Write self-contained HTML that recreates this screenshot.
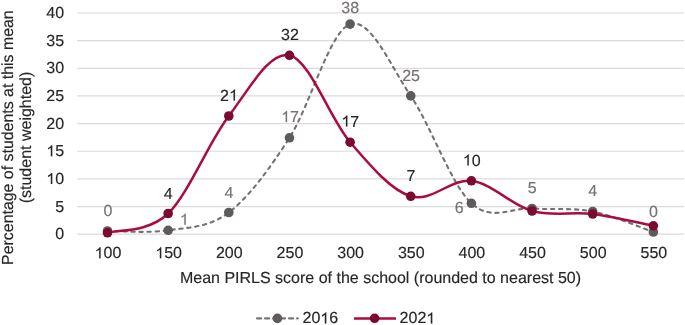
<!DOCTYPE html>
<html><head><meta charset="utf-8"><style>
html,body{margin:0;padding:0;background:#fff;}
body{width:685px;height:325px;overflow:hidden;position:relative;font-family:"Liberation Sans",sans-serif;}
svg{position:absolute;left:0;top:0;}
svg text{font-family:"Liberation Sans",sans-serif;font-size:16px;fill:#262626;stroke:#262626;stroke-width:0.15px;text-rendering:geometricPrecision;}
</style></head><body>
<svg style="will-change:transform" width="685" height="325" viewBox="0 0 685 325">
<line x1="77" x2="684" y1="13.00" y2="13.00" stroke="#dddbd9" stroke-width="1.2"/><line x1="77" x2="684" y1="40.65" y2="40.65" stroke="#dddbd9" stroke-width="1.2"/><line x1="77" x2="684" y1="68.30" y2="68.30" stroke="#dddbd9" stroke-width="1.2"/><line x1="77" x2="684" y1="95.95" y2="95.95" stroke="#dddbd9" stroke-width="1.2"/><line x1="77" x2="684" y1="123.60" y2="123.60" stroke="#dddbd9" stroke-width="1.2"/><line x1="77" x2="684" y1="151.25" y2="151.25" stroke="#dddbd9" stroke-width="1.2"/><line x1="77" x2="684" y1="178.90" y2="178.90" stroke="#dddbd9" stroke-width="1.2"/><line x1="77" x2="684" y1="206.55" y2="206.55" stroke="#dddbd9" stroke-width="1.2"/><line x1="77" x2="684" y1="234.20" y2="234.20" stroke="#dddbd9" stroke-width="1.2"/>
<g><text transform="translate(64.10,18.00)" text-anchor="end">40</text><text transform="translate(64.10,45.65)" text-anchor="end">35</text><text transform="translate(64.10,73.30)" text-anchor="end">30</text><text transform="translate(64.10,100.95)" text-anchor="end">25</text><text transform="translate(64.10,128.60)" text-anchor="end">20</text><text transform="translate(64.10,156.25)" text-anchor="end"><tspan style="fill:none;stroke:none">1</tspan>5</text><path transform="translate(46.303,156.25) scale(0.007812,-0.007812)" d="M763,0L583,0L583,1102Q518,1043 412,983Q307,924 223,894L223,1061Q374,1129 487,1223Q600,1316 647,1409L763,1409Z" fill="#262626" stroke="#262626" stroke-width="19.2"/><text transform="translate(64.10,183.90)" text-anchor="end"><tspan style="fill:none;stroke:none">1</tspan>0</text><path transform="translate(46.303,183.90) scale(0.007812,-0.007812)" d="M763,0L583,0L583,1102Q518,1043 412,983Q307,924 223,894L223,1061Q374,1129 487,1223Q600,1316 647,1409L763,1409Z" fill="#262626" stroke="#262626" stroke-width="19.2"/><text transform="translate(64.10,211.55)" text-anchor="end">5</text><text transform="translate(64.10,239.20)" text-anchor="end">0</text><text transform="translate(108.00,258.30)" text-anchor="middle"><tspan style="fill:none;stroke:none">1</tspan>00</text><path transform="translate(94.652,258.30) scale(0.007812,-0.007812)" d="M763,0L583,0L583,1102Q518,1043 412,983Q307,924 223,894L223,1061Q374,1129 487,1223Q600,1316 647,1409L763,1409Z" fill="#262626" stroke="#262626" stroke-width="19.2"/><text transform="translate(168.65,258.30)" text-anchor="middle"><tspan style="fill:none;stroke:none">1</tspan>50</text><path transform="translate(155.302,258.30) scale(0.007812,-0.007812)" d="M763,0L583,0L583,1102Q518,1043 412,983Q307,924 223,894L223,1061Q374,1129 487,1223Q600,1316 647,1409L763,1409Z" fill="#262626" stroke="#262626" stroke-width="19.2"/><text transform="translate(229.30,258.30)" text-anchor="middle">200</text><text transform="translate(289.95,258.30)" text-anchor="middle">250</text><text transform="translate(350.60,258.30)" text-anchor="middle">300</text><text transform="translate(411.25,258.30)" text-anchor="middle">350</text><text transform="translate(471.90,258.30)" text-anchor="middle">400</text><text transform="translate(532.55,258.30)" text-anchor="middle">450</text><text transform="translate(593.20,258.30)" text-anchor="middle">500</text><text transform="translate(653.85,258.30)" text-anchor="middle">550</text></g>
<text transform="translate(380.50,282.60)" text-anchor="middle">Mean PIRLS score of the school (rounded to nearest 50)</text>
<text transform="translate(12.50,137.60) rotate(-90) scale(0.994,1.0)" text-anchor="middle">Percentage of students at this mean</text>
<text transform="translate(30.50,137.50) rotate(-90)" text-anchor="middle">(student weighted)</text>
<path d="M107.50,231.00 C117.61,230.88 147.93,233.38 168.15,230.30 C188.37,227.22 208.58,227.92 228.80,212.50 C249.02,197.08 269.23,169.20 289.45,137.80 C309.67,106.40 329.88,31.08 350.10,24.10 C370.32,17.12 390.53,66.03 410.75,95.90 C430.97,125.77 451.18,184.53 471.40,203.30 C491.62,222.07 511.83,207.13 532.05,208.50 C552.27,209.87 572.48,207.58 592.70,211.50 C612.92,215.42 643.24,228.58 653.35,232.00" fill="none" stroke="#767171" stroke-width="2.1" stroke-dasharray="3.3 4.7" stroke-linecap="round"/>
<circle cx="107.50" cy="231.00" r="4.8" fill="#5f5b5b"/><circle cx="168.15" cy="230.30" r="4.8" fill="#5f5b5b"/><circle cx="228.80" cy="212.50" r="4.8" fill="#5f5b5b"/><circle cx="289.45" cy="137.80" r="4.8" fill="#5f5b5b"/><circle cx="350.10" cy="24.10" r="4.8" fill="#5f5b5b"/><circle cx="410.75" cy="95.90" r="4.8" fill="#5f5b5b"/><circle cx="471.40" cy="203.30" r="4.8" fill="#5f5b5b"/><circle cx="532.05" cy="208.50" r="4.8" fill="#5f5b5b"/><circle cx="592.70" cy="211.50" r="4.8" fill="#5f5b5b"/><circle cx="653.35" cy="232.00" r="4.8" fill="#5f5b5b"/>
<path d="M107.50,232.80 C117.61,229.58 147.93,232.97 168.15,213.50 C188.37,194.03 208.58,142.37 228.80,116.00 C249.02,89.63 269.23,50.93 289.45,55.30 C309.67,59.67 329.88,118.70 350.10,142.20 C370.32,165.70 390.53,189.87 410.75,196.30 C430.97,202.73 451.18,178.35 471.40,180.80 C491.62,183.25 511.83,205.47 532.05,211.00 C552.27,216.53 572.48,211.53 592.70,214.00 C612.92,216.47 643.24,223.83 653.35,225.80" fill="none" stroke="#aa0c3e" stroke-width="2.5"/>
<circle cx="107.50" cy="232.80" r="4.8" fill="#7b0a32"/><circle cx="168.15" cy="213.50" r="4.8" fill="#7b0a32"/><circle cx="228.80" cy="116.00" r="4.8" fill="#7b0a32"/><circle cx="289.45" cy="55.30" r="4.8" fill="#7b0a32"/><circle cx="350.10" cy="142.20" r="4.8" fill="#7b0a32"/><circle cx="410.75" cy="196.30" r="4.8" fill="#7b0a32"/><circle cx="471.40" cy="180.80" r="4.8" fill="#7b0a32"/><circle cx="532.05" cy="211.00" r="4.8" fill="#7b0a32"/><circle cx="592.70" cy="214.00" r="4.8" fill="#7b0a32"/><circle cx="653.35" cy="225.80" r="4.8" fill="#7b0a32"/>
<text transform="translate(108.00,216.00)" text-anchor="middle" style="fill:#767171;stroke:#767171">0</text><text transform="translate(184.20,224.70)" text-anchor="middle" style="fill:#767171;stroke:#767171"><tspan style="fill:none;stroke:none">1</tspan></text><path transform="translate(179.751,224.70) scale(0.007812,-0.007812)" d="M763,0L583,0L583,1102Q518,1043 412,983Q307,924 223,894L223,1061Q374,1129 487,1223Q600,1316 647,1409L763,1409Z" fill="#767171" stroke="#767171" stroke-width="19.2"/><text transform="translate(228.90,197.50)" text-anchor="middle" style="fill:#767171;stroke:#767171">4</text><text transform="translate(290.00,122.00)" text-anchor="middle" style="fill:#767171;stroke:#767171"><tspan style="fill:none;stroke:none">1</tspan>7</text><path transform="translate(281.102,122.00) scale(0.007812,-0.007812)" d="M763,0L583,0L583,1102Q518,1043 412,983Q307,924 223,894L223,1061Q374,1129 487,1223Q600,1316 647,1409L763,1409Z" fill="#767171" stroke="#767171" stroke-width="19.2"/><text transform="translate(350.20,12.90)" text-anchor="middle" style="fill:#767171;stroke:#767171">38</text><text transform="translate(411.10,81.10)" text-anchor="middle" style="fill:#767171;stroke:#767171">25</text><text transform="translate(459.10,213.00)" text-anchor="middle" style="fill:#767171;stroke:#767171">6</text><text transform="translate(532.20,192.70)" text-anchor="middle" style="fill:#767171;stroke:#767171">5</text><text transform="translate(592.70,195.80)" text-anchor="middle" style="fill:#767171;stroke:#767171">4</text><text transform="translate(653.50,216.50)" text-anchor="middle" style="fill:#767171;stroke:#767171">0</text><text transform="translate(168.30,198.60)" text-anchor="middle" style="fill:#262626;stroke:#262626">4</text><text transform="translate(229.00,100.50)" text-anchor="middle" style="fill:#262626;stroke:#262626">2<tspan style="fill:none;stroke:none">1</tspan></text><path transform="translate(229.000,100.50) scale(0.007812,-0.007812)" d="M763,0L583,0L583,1102Q518,1043 412,983Q307,924 223,894L223,1061Q374,1129 487,1223Q600,1316 647,1409L763,1409Z" fill="#262626" stroke="#262626" stroke-width="19.2"/><text transform="translate(289.90,39.50)" text-anchor="middle" style="fill:#262626;stroke:#262626">32</text><text transform="translate(350.30,126.60)" text-anchor="middle" style="fill:#262626;stroke:#262626"><tspan style="fill:none;stroke:none">1</tspan>7</text><path transform="translate(341.402,126.60) scale(0.007812,-0.007812)" d="M763,0L583,0L583,1102Q518,1043 412,983Q307,924 223,894L223,1061Q374,1129 487,1223Q600,1316 647,1409L763,1409Z" fill="#262626" stroke="#262626" stroke-width="19.2"/><text transform="translate(410.90,180.80)" text-anchor="middle" style="fill:#262626;stroke:#262626">7</text><text transform="translate(471.70,165.50)" text-anchor="middle" style="fill:#262626;stroke:#262626"><tspan style="fill:none;stroke:none">1</tspan>0</text><path transform="translate(462.802,165.50) scale(0.007812,-0.007812)" d="M763,0L583,0L583,1102Q518,1043 412,983Q307,924 223,894L223,1061Q374,1129 487,1223Q600,1316 647,1409L763,1409Z" fill="#262626" stroke="#262626" stroke-width="19.2"/>
<line x1="257.1" x2="297.8" y1="318.4" y2="318.4" stroke="#767171" stroke-width="2.1" stroke-dasharray="3.9 4.1" stroke-linecap="round"/>
<circle cx="277.4" cy="318.4" r="4.8" fill="#5f5b5b"/>
<text transform="translate(302.50,323.40)" text-anchor="start">20<tspan style="fill:none;stroke:none">1</tspan>6</text><path transform="translate(320.297,323.40) scale(0.007812,-0.007812)" d="M763,0L583,0L583,1102Q518,1043 412,983Q307,924 223,894L223,1061Q374,1129 487,1223Q600,1316 647,1409L763,1409Z" fill="#262626" stroke="#262626" stroke-width="19.2"/>
<line x1="354" x2="396" y1="318.4" y2="318.4" stroke="#aa0c3e" stroke-width="2.5"/>
<circle cx="374.6" cy="318.3" r="4.8" fill="#7b0a32"/>
<text transform="translate(399.60,323.40)" text-anchor="start">202<tspan style="fill:none;stroke:none">1</tspan></text><path transform="translate(426.295,323.40) scale(0.007812,-0.007812)" d="M763,0L583,0L583,1102Q518,1043 412,983Q307,924 223,894L223,1061Q374,1129 487,1223Q600,1316 647,1409L763,1409Z" fill="#262626" stroke="#262626" stroke-width="19.2"/>
</svg>
</body></html>
